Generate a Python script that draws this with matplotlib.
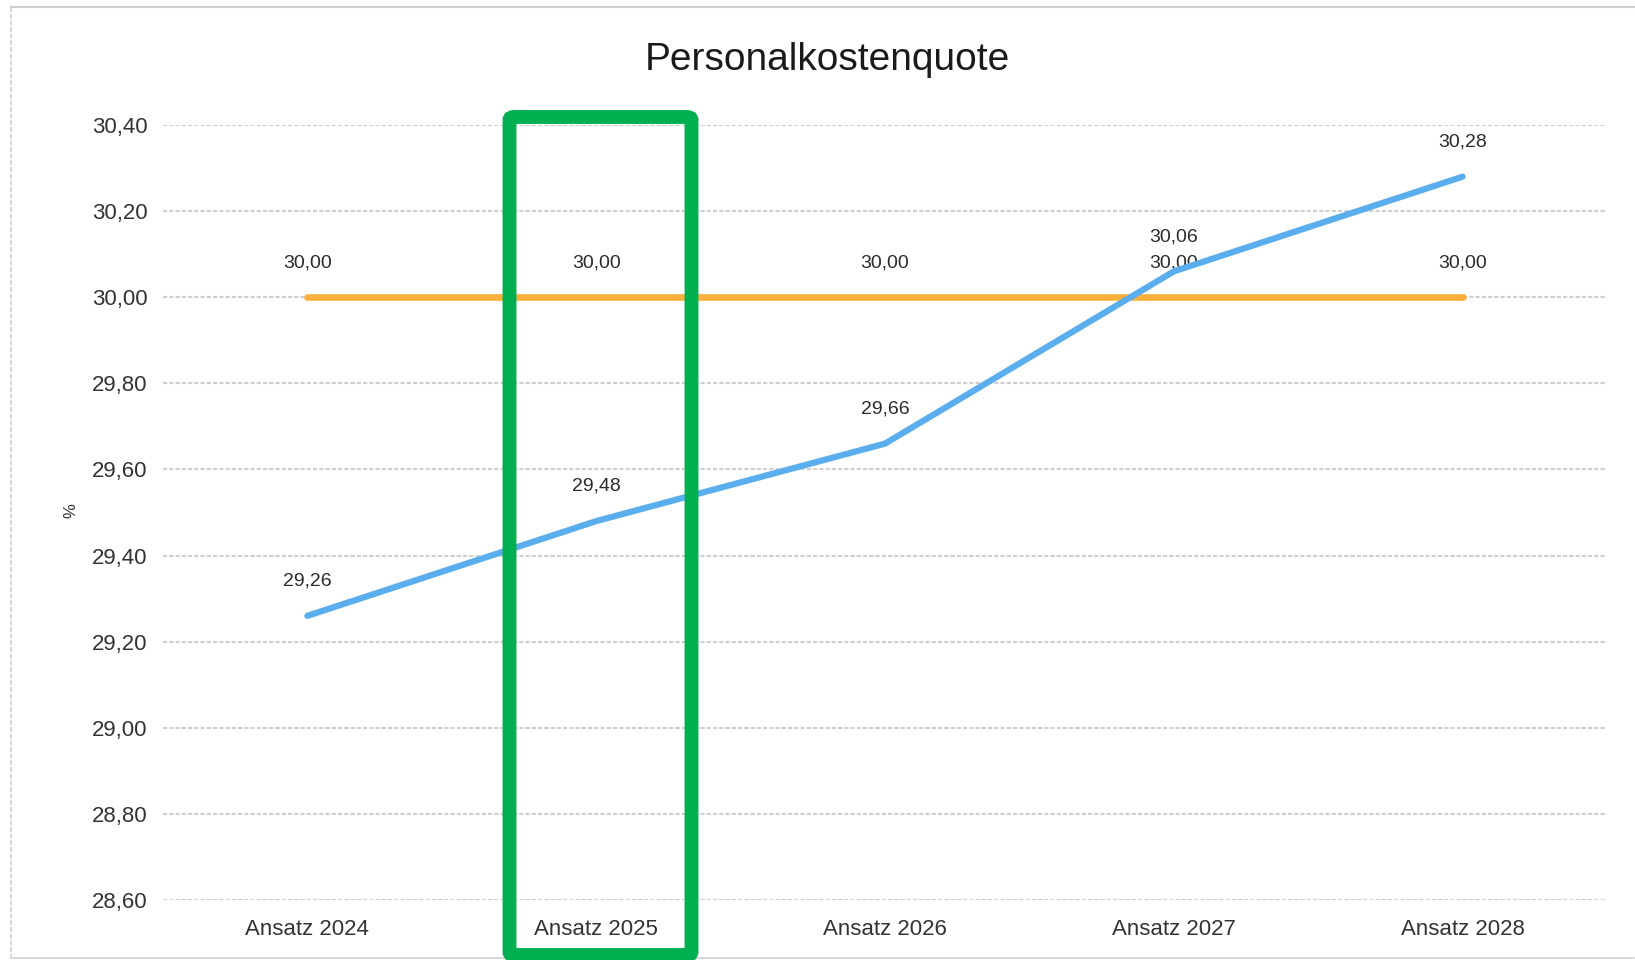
import matplotlib.pyplot as plt
from matplotlib.patches import FancyBboxPatch
from matplotlib.lines import Line2D

plt.rcParams['font.family'] = ['Liberation Sans', 'DejaVu Sans']

# Daten
kategorien = ["Ansatz 2024", "Ansatz 2025", "Ansatz 2026", "Ansatz 2027", "Ansatz 2028"]
personalkosten = [29.26, 29.48, 29.66, 30.06, 30.28]
zielwert = [30.00, 30.00, 30.00, 30.00, 30.00]
y_ticks = [28.6, 28.8, 29.0, 29.2, 29.4, 29.6, 29.8, 30.0, 30.2, 30.4]

W, H = 1635, 960
fig = plt.figure(figsize=(W / 100, H / 100), dpi=100)
ax = fig.add_axes([163 / W, 1 - 900 / H, (1607 - 163) / W, (900 - 125) / H])

x = list(range(len(kategorien)))
ax.plot(x, zielwert, color="#fab03c", lw=4.8, solid_capstyle="round", zorder=3)
ax.plot(x, personalkosten, color="#5aaeee", lw=4.5, solid_capstyle="round", zorder=4)

# Datenbeschriftungen
for xi, v in zip(x, zielwert):
    ax.annotate(f"{v:.2f}".replace(".", ","), (xi, v), xytext=(0, 25), textcoords="offset points",
                ha="center", va="center", fontsize=14, color="#2b2b2b")
for xi, v in zip(x, personalkosten):
    ax.annotate(f"{v:.2f}".replace(".", ","), (xi, v), xytext=(0, 25), textcoords="offset points",
                ha="center", va="center", fontsize=14, color="#2b2b2b")

ax.set_xlim(-0.5, len(kategorien) - 0.5)
ax.set_ylim(28.6, 30.4)
ax.set_yticks(y_ticks)
ax.set_yticklabels([f"{t:.2f}".replace(".", ",") for t in y_ticks], fontsize=16, color="#333333")
ax.set_xticks(x)
ax.set_xticklabels(kategorien, fontsize=16, color="#333333")
ax.tick_params(axis="y", length=0, pad=11)
ax.tick_params(axis="x", length=0, pad=14)
ax.grid(axis="y", color="#cfcfcf", lw=1.5, ls=(0, (2, 1)))
ax.set_axisbelow(True)
for s in ax.spines.values():
    s.set_visible(False)

fig.text(71 / W, 1 - 511 / H, "%", rotation=90, fontsize=12, ha="center", va="center", color="#333333")

fig.text(827 / W, 1 - 60 / H, "Personalkostenquote", fontsize=28, ha="center", va="center", color="#1a1a1a")

# Rahmen
fig.add_artist(Line2D([11 / W, 11 / W], [1 - 7 / H, 1 - 958 / H], color="#d0d0d0", lw=1.2, ls=(0, (3, 1))))
fig.add_artist(Line2D([11 / W, 1634 / W], [1 - 7 / H, 1 - 7 / H], color="#d0d0d0", lw=1.5))
fig.add_artist(Line2D([11 / W, 1634 / W], [1 - 958 / H, 1 - 958 / H], color="#d0d0d0", lw=1.2))

# gruene Markierung
fig.add_artist(FancyBboxPatch((509.5 / W, 1 - 955 / H), (691.5 - 509.5) / W, (955 - 117) / H,
                              boxstyle="round,pad=0,rounding_size=0.003", transform=fig.transFigure,
                              fill=False, ec="#00b050", lw=10, zorder=10))

fig.savefig("out.png", dpi=100)
